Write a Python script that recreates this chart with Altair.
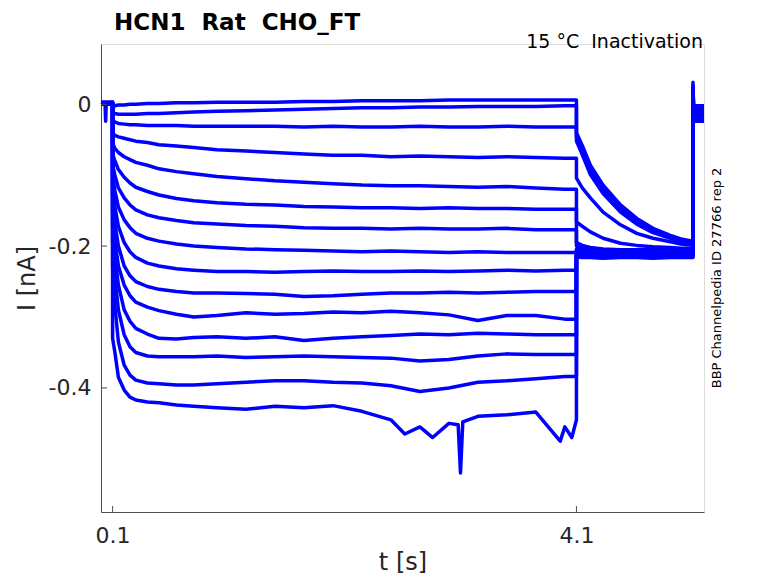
import pandas as pd
import altair as alt

# time grids (s)
HOLD_T = [0.0, 0.1]
STEP_T = [0.1, 0.12, 0.15, 0.2, 0.25, 0.3, 0.4, 0.5, 0.65, 0.8, 1.0, 1.25,
          1.5, 1.75, 2.0, 2.25, 2.5, 2.75, 3.0, 3.25, 3.5, 3.75, 4.0, 4.1]
POST_T = [4.1, 4.15, 4.22, 4.33, 4.48, 4.62, 4.76, 4.91, 5.0, 5.105]
TAIL_T = [5.105, 5.11, 5.2]

# holding current before the step (nA), one per sweep
HOLD_I = [0.003, 0.001, 0.002, 0.0, 0.002, 0.001, 0.003, 0.0,
          0.002, 0.001, 0.003, 0.001, 0.002, 0.0, 0.002]

# current during the conditioning step (nA), one list per sweep
STEP_I = [
    [-0.002, -0.002, -0.001, -0.001, 0.000, 0.000, 0.001, 0.001, 0.002, 0.002, 0.003, 0.003,
     0.003, 0.004, 0.004, 0.005, 0.005, 0.005, 0.006, 0.006, 0.006, 0.006, 0.006, 0.006],
    [-0.012, -0.013, -0.014, -0.014, -0.014, -0.014, -0.013, -0.013, -0.012, -0.011, -0.010, -0.009,
     -0.008, -0.007, -0.006, -0.005, -0.005, -0.004, -0.004, -0.003, -0.003, -0.003, -0.002, -0.002],
    [-0.022, -0.025, -0.027, -0.028, -0.029, -0.029, -0.030, -0.030, -0.030, -0.031, -0.031, -0.031,
     -0.031, -0.032, -0.031, -0.032, -0.032, -0.031, -0.032, -0.032, -0.031, -0.032, -0.032, -0.032],
    [-0.040, -0.044, -0.046, -0.048, -0.050, -0.052, -0.054, -0.057, -0.059, -0.061, -0.064, -0.066,
     -0.068, -0.070, -0.072, -0.072, -0.074, -0.073, -0.074, -0.075, -0.074, -0.075, -0.076, -0.076],
    [-0.055, -0.062, -0.068, -0.074, -0.078, -0.082, -0.086, -0.091, -0.095, -0.098, -0.102, -0.105,
     -0.108, -0.110, -0.112, -0.114, -0.115, -0.115, -0.116, -0.117, -0.116, -0.118, -0.120, -0.120],
    [-0.070, -0.080, -0.092, -0.103, -0.111, -0.117, -0.123, -0.128, -0.133, -0.136, -0.139, -0.141,
     -0.142, -0.144, -0.145, -0.146, -0.146, -0.147, -0.146, -0.147, -0.147, -0.148, -0.148, -0.148],
    [-0.085, -0.100, -0.118, -0.132, -0.142, -0.149, -0.156, -0.160, -0.164, -0.167, -0.169, -0.171,
     -0.172, -0.174, -0.175, -0.175, -0.176, -0.175, -0.176, -0.176, -0.175, -0.177, -0.177, -0.177],
    [-0.100, -0.122, -0.145, -0.163, -0.174, -0.182, -0.189, -0.193, -0.197, -0.200, -0.202, -0.204,
     -0.205, -0.206, -0.207, -0.208, -0.207, -0.208, -0.209, -0.208, -0.209, -0.209, -0.209, -0.209],
    [-0.115, -0.145, -0.172, -0.195, -0.208, -0.216, -0.224, -0.228, -0.232, -0.234, -0.236, -0.236,
     -0.237, -0.236, -0.235, -0.236, -0.236, -0.235, -0.236, -0.235, -0.234, -0.235, -0.234, -0.234],
    [-0.130, -0.168, -0.200, -0.228, -0.242, -0.250, -0.257, -0.261, -0.264, -0.266, -0.266, -0.267,
     -0.268, -0.271, -0.270, -0.268, -0.266, -0.266, -0.265, -0.266, -0.265, -0.264, -0.264, -0.264],
    [-0.150, -0.192, -0.228, -0.255, -0.270, -0.279, -0.286, -0.291, -0.296, -0.300, -0.298, -0.294,
     -0.296, -0.295, -0.293, -0.294, -0.292, -0.294, -0.297, -0.305, -0.298, -0.298, -0.303, -0.303],
    [-0.170, -0.215, -0.255, -0.290, -0.306, -0.316, -0.324, -0.330, -0.331, -0.329, -0.328, -0.330,
     -0.328, -0.333, -0.330, -0.328, -0.326, -0.324, -0.325, -0.323, -0.324, -0.325, -0.325, -0.325],
    [-0.195, -0.243, -0.290, -0.325, -0.342, -0.350, -0.355, -0.356, -0.356, -0.356, -0.355, -0.357,
     -0.356, -0.355, -0.356, -0.357, -0.358, -0.362, -0.360, -0.355, -0.352, -0.353, -0.353, -0.353],
    [-0.230, -0.285, -0.335, -0.368, -0.382, -0.389, -0.393, -0.394, -0.396, -0.396, -0.394, -0.392,
     -0.390, -0.390, -0.392, -0.393, -0.397, -0.405, -0.400, -0.392, -0.390, -0.387, -0.384, -0.384],
    [-0.330, -0.350, -0.385, -0.403, -0.413, -0.417, -0.420, -0.421, -0.424, -0.426, -0.428, -0.430,
     -0.426, -0.428, -0.425, -0.433, -0.445, -0.455, -0.450, -0.440, -0.438, -0.434, -0.455, -0.445],
]

# tail current at the test potential (nA)
POST_I = [
    [-0.040, -0.058, -0.086, -0.114, -0.142, -0.161, -0.175, -0.185, -0.190, -0.193],
    [-0.046, -0.065, -0.093, -0.120, -0.147, -0.165, -0.178, -0.187, -0.192, -0.195],
    [-0.052, -0.071, -0.099, -0.126, -0.152, -0.169, -0.181, -0.189, -0.194, -0.197],
    [-0.104, -0.118, -0.132, -0.152, -0.170, -0.182, -0.189, -0.194, -0.197, -0.199],
    [-0.166, -0.172, -0.180, -0.189, -0.196, -0.199, -0.201, -0.202, -0.203, -0.203],
    [-0.195, -0.199, -0.202, -0.204, -0.205, -0.205, -0.205, -0.205, -0.205, -0.205],
    [-0.200, -0.203, -0.205, -0.206, -0.206, -0.206, -0.206, -0.206, -0.206, -0.206],
    [-0.204, -0.206, -0.207, -0.207, -0.207, -0.208, -0.207, -0.207, -0.207, -0.207],
    [-0.206, -0.208, -0.208, -0.209, -0.208, -0.208, -0.209, -0.208, -0.208, -0.208],
    [-0.208, -0.209, -0.210, -0.209, -0.210, -0.210, -0.209, -0.210, -0.210, -0.210],
    [-0.209, -0.211, -0.211, -0.210, -0.211, -0.211, -0.211, -0.211, -0.211, -0.211],
    [-0.210, -0.212, -0.212, -0.212, -0.212, -0.213, -0.212, -0.212, -0.212, -0.212],
    [-0.212, -0.213, -0.213, -0.214, -0.213, -0.213, -0.214, -0.213, -0.213, -0.213],
    [-0.213, -0.214, -0.215, -0.214, -0.215, -0.215, -0.214, -0.215, -0.215, -0.215],
    [-0.215, -0.216, -0.216, -0.217, -0.216, -0.216, -0.217, -0.216, -0.216, -0.216],
]

# capacitive spike and return to holding
TAIL_SPIKE = [0.031, 0.026, 0.022, 0.018, 0.015, 0.012, 0.010, 0.008,
              0.006, 0.004, 0.003, 0.002, 0.001, 0.0, 0.0]
TAIL_I = [-0.002, -0.004, -0.005, -0.007, -0.008, -0.010, -0.011, -0.012,
          -0.014, -0.015, -0.017, -0.018, -0.020, -0.022, -0.024]

# a few visible glitches
GLITCH_TOP_T = [0.035, 0.040, 0.045]
GLITCH_TOP_I = [0.001, -0.024, 0.001]
GLITCH_BOTTOM_T = [2.62, 2.86, 3.08, 3.10, 3.12, 3.96, 4.06]
GLITCH_BOTTOM_I = [-0.465, -0.470, -0.452, -0.520, -0.448, -0.475, -0.470]

X_TICKS = [0.1, 4.1]
Y_TICKS = [-0.4, -0.2, 0.0]

TITLE = "HCN1\u00a0 Rat\u00a0 CHO_FT"
SUBTITLE = "15 °C\u00a0 Inactivation"
SOURCE = "BBP Channelpedia ID 27766 rep 2"

rows = []
for k in range(len(STEP_I)):
    pts = []
    pts += [(0, t, HOLD_I[k]) for t in HOLD_T]
    pts += [(1, t, v) for t, v in zip(STEP_T, STEP_I[k])]
    pts += [(2, t, v) for t, v in zip(POST_T, POST_I[k])]
    pts += [(3, TAIL_T[0], TAIL_SPIKE[k]), (3, TAIL_T[1], TAIL_I[k]), (3, TAIL_T[2], TAIL_I[k])]
    if k == 0:
        pts += [(0, t, v) for t, v in zip(GLITCH_TOP_T, GLITCH_TOP_I)]
    if k == len(STEP_I) - 1:
        pts += [(1, t, v) for t, v in zip(GLITCH_BOTTOM_T, GLITCH_BOTTOM_I)]
    pts = sorted(enumerate(pts), key=lambda p: (p[1][0], p[1][1], p[0]))
    for i, (_, (ph, t, v)) in enumerate(pts):
        rows.append({"sweep": k, "idx": i, "t": t, "I": v})
df = pd.DataFrame(rows)

FONT = "DejaVu Sans"
AX = "#4d4d4d"
LAB = "#262626"

x_axis = alt.Axis(values=X_TICKS, format=".1f", ticks=False, tickSize=0, grid=False,
                  labelFontSize=22, labelColor=LAB, labelPadding=30, labelBaseline="alphabetic",
                  labelFlush=False, domainColor=AX, title="t [s]", titleFontSize=24,
                  titleFontWeight="normal", titleColor=LAB, titleY=57, titleBaseline="alphabetic")
y_axis = alt.Axis(values=Y_TICKS, ticks=False, tickSize=0, grid=False,
                  labelExpr="datum.value == 0 ? '0' : (datum.value < 0 ? '-' : '') + format(abs(datum.value), '.1f')",
                  labelFontSize=22, labelColor=LAB, labelPadding=10, domainColor=AX,
                  title="I [nA]", titleFontSize=24, titleFontWeight="normal", titleColor=LAB,
                  titleX=-67, titleY=234, titleAngle=270, titleAlign="center", titleBaseline="alphabetic")
x_scale = alt.Scale(domain=[0.0, 5.2], nice=False, zero=False)
y_scale = alt.Scale(domain=[-0.575, 0.085], nice=False, zero=False)

lines = alt.Chart(df).mark_line(color="#0000ff", strokeWidth=3.5, strokeJoin="round").encode(
    x=alt.X("t:Q", scale=x_scale, axis=x_axis),
    y=alt.Y("I:Q", scale=y_scale, axis=y_axis),
    detail="sweep:N",
    order="idx:Q",
)

xticks = alt.Chart(pd.DataFrame({"t": X_TICKS})).mark_rule(color=AX, strokeWidth=1).encode(
    x=alt.X("t:Q", scale=x_scale, axis=x_axis), y=alt.value(468), y2=alt.value(462))
yticks = alt.Chart(pd.DataFrame({"I": Y_TICKS})).mark_rule(color=AX, strokeWidth=1).encode(
    y=alt.Y("I:Q", scale=y_scale, axis=y_axis), x=alt.value(0), x2=alt.value(6))

title = alt.Chart(pd.DataFrame({"s": [TITLE]})).mark_text(
    font=FONT, fontSize=23, fontWeight="bold", color="black", align="left", baseline="alphabetic"
).encode(text="s:N", x=alt.value(13), y=alt.value(-14))
subtitle = alt.Chart(pd.DataFrame({"s": [SUBTITLE]})).mark_text(
    font=FONT, fontSize=19, color="black", align="right", baseline="alphabetic"
).encode(text="s:N", x=alt.value(602), y=alt.value(4))
source = alt.Chart(pd.DataFrame({"s": [SOURCE]})).mark_text(
    font=FONT, fontSize=13, color="black", align="center", baseline="middle", angle=270
).encode(text="s:N", x=alt.value(616), y=alt.value(234))

chart = alt.layer(lines, xticks, yticks, title, subtitle, source).properties(
    width=603, height=468, autosize=alt.AutoSizeParams(type="none"),
    padding={"left": 93, "top": 36, "right": 66, "bottom": 63},
).configure_view(stroke=None).configure(font=FONT)

chart.save("out.html", embed_options={"renderer": "svg", "actions": False})
